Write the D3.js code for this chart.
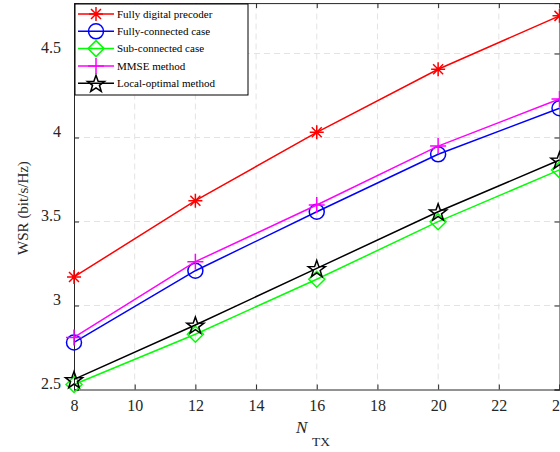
<!DOCTYPE html>
<html>
<head>
<meta charset="utf-8">
<script src="https://cdn.jsdelivr.net/npm/d3@7"></script>
<style>
  body { margin: 0; background: #fff; }
  svg { display: block; }
  svg text { font-family: "Liberation Serif", "Times New Roman", serif !important; }
</style>
</head>
<body>
<svg width="560" height="452"></svg>
<script>
// data
var nTx = [8, 12, 16, 20, 24];
var fullyDigital   = [3.17, 3.624, 4.031, 4.406, 4.724];
var fullyConnected = [2.78, 3.207, 3.558, 3.900, 4.174];
var subConnected   = [2.53, 2.829, 3.156, 3.499, 3.807];
var mmse           = [2.81, 3.261, 3.598, 3.949, 4.229];
var localOptimal   = [2.56, 2.884, 3.221, 3.558, 3.866];

var seriesNames = ["Fully digital precoder", "Fully-connected case", "Sub-connected case", "MMSE method", "Local-optimal method"];
var xTicks = [8, 10, 12, 14, 16, 18, 20, 22, 24];
var yTicks = [2.5, 3, 3.5, 4, 4.5];

var svg = d3.select("svg");
var axisCol = "#262626";

var x = d3.scaleLinear().domain([8, 24]).range([74, 559.5]);
var y = d3.scaleLinear().domain([2.5, 4.8]).range([389.5, 3.1]);

var series = [
  {name: seriesNames[0], vals: fullyDigital,   col: "#ff0000", mk: "asterisk"},
  {name: seriesNames[1], vals: fullyConnected, col: "#0000ff", mk: "circle"},
  {name: seriesNames[2], vals: subConnected,   col: "#00ff00", mk: "diamond"},
  {name: seriesNames[3], vals: mmse,           col: "#ff00ff", mk: "plus"},
  {name: seriesNames[4], vals: localOptimal,   col: "#000000", mk: "star"}
];

// grid
var grid = svg.append("g").attr("stroke", "#e3e3e3").attr("stroke-dasharray", "6,4").attr("stroke-width", 1);
grid.selectAll(".gx").data(xTicks.slice(1, -1)).enter().append("line")
  .attr("x1", d => x(d)).attr("x2", d => x(d)).attr("y1", y.range()[0]).attr("y2", y.range()[1]);
grid.selectAll(".gy").data(yTicks.slice(1)).enter().append("line")
  .attr("y1", d => y(d)).attr("y2", d => y(d)).attr("x1", x.range()[0]).attr("x2", x.range()[1]);

// axes (box on, ticks inside)
var xAxis = d3.axisBottom(x).tickValues(xTicks).tickSize(-5).tickPadding(10).tickFormat(d3.format("d"));
var yAxis = d3.axisLeft(y).tickValues(yTicks).tickSize(-5).tickPadding(13).tickFormat(d3.format("~g"));

var gx = svg.append("g").attr("transform", "translate(0," + y.range()[0] + ")").call(xAxis);
var gy = svg.append("g").attr("transform", "translate(" + x.range()[0] + ",0)").call(yAxis);
svg.append("g").attr("transform", "translate(0," + y.range()[1] + ")")
  .call(d3.axisTop(x).tickValues(xTicks).tickSize(-5).tickFormat(""));
svg.append("g").attr("transform", "translate(" + x.range()[1] + ",0)")
  .call(d3.axisRight(y).tickValues(yTicks).tickSize(-5).tickFormat(""));

svg.selectAll(".domain, .tick line").attr("stroke", axisCol);
gx.selectAll("text").attr("font-size", 16).attr("fill", axisCol);
gy.selectAll("text").attr("font-size", 16).attr("fill", axisCol).attr("dy", "-0.05em");

// axis labels
svg.append("text").attr("transform", "translate(28,208) rotate(-90)")
  .attr("text-anchor", "middle").attr("font-size", 15).attr("fill", axisCol)
  .text("WSR (bit/s/Hz)");
svg.append("text").attr("x", 296).attr("y", 433).attr("font-size", 17).attr("font-style", "italic")
  .attr("fill", axisCol).text("N");
svg.append("text").attr("x", 312).attr("y", 446).attr("font-size", 13.5)
  .attr("fill", axisCol).text("TX");

// marker shapes
function marker(g, type, col) {
  if (type == "asterisk") {
    g.append("path").attr("d", "M-7,0H7M0,-7V7M-5,-5L5,5M-5,5L5,-5")
      .attr("stroke", col).attr("stroke-width", 1.5).attr("fill", "none");
  } else if (type == "circle") {
    g.append("circle").attr("r", 7.5).attr("stroke", col).attr("stroke-width", 1.5).attr("fill", "none");
  } else if (type == "diamond") {
    g.append("path").attr("d", "M0,-8L8,0L0,8L-8,0Z")
      .attr("stroke", col).attr("stroke-width", 1.5).attr("fill", "none");
  } else if (type == "plus") {
    g.append("path").attr("d", "M-8,0H8M0,-8V8")
      .attr("stroke", col).attr("stroke-width", 1.5).attr("fill", "none");
  } else {
    var pts = [];
    for (var i = 0; i < 10; i++) {
      var r = i % 2 ? 3.6 : 9;
      var a = -Math.PI / 2 + i * Math.PI / 5;
      pts.push([r * Math.cos(a), r * Math.sin(a) + 1]);
    }
    g.append("path").attr("d", "M" + pts.join("L") + "Z")
      .attr("stroke", col).attr("stroke-width", 1.5).attr("fill", "none");
  }
}

var line = d3.line().x((d, i) => x(nTx[i])).y(d => y(d));

series.forEach(function(s) {
  svg.append("path").datum(s.vals).attr("d", line)
    .attr("fill", "none").attr("stroke", s.col).attr("stroke-width", 1.5);
  s.vals.forEach(function(v, i) {
    var g = svg.append("g").attr("transform", "translate(" + x(nTx[i]) + "," + y(v) + ")");
    marker(g, s.mk, s.col);
  });
});

// legend
var leg = svg.append("g");
leg.append("rect").attr("x", 75).attr("y", 4).attr("width", 173).attr("height", 91)
  .attr("fill", "#fff").attr("stroke", "#000").attr("stroke-width", 1);
series.forEach(function(s, i) {
  var ly = 14 + i * 17.3;
  leg.append("line").attr("x1", 78).attr("x2", 114).attr("y1", ly).attr("y2", ly)
    .attr("stroke", s.col).attr("stroke-width", 1.5);
  var g = leg.append("g").attr("transform", "translate(96," + ly + ")");
  marker(g, s.mk, s.col);
  leg.append("text").attr("x", 117).attr("y", ly).attr("dy", "0.33em")
    .attr("font-size", 11).attr("fill", "#000").text(s.name);
});
</script>
</body>
</html>
